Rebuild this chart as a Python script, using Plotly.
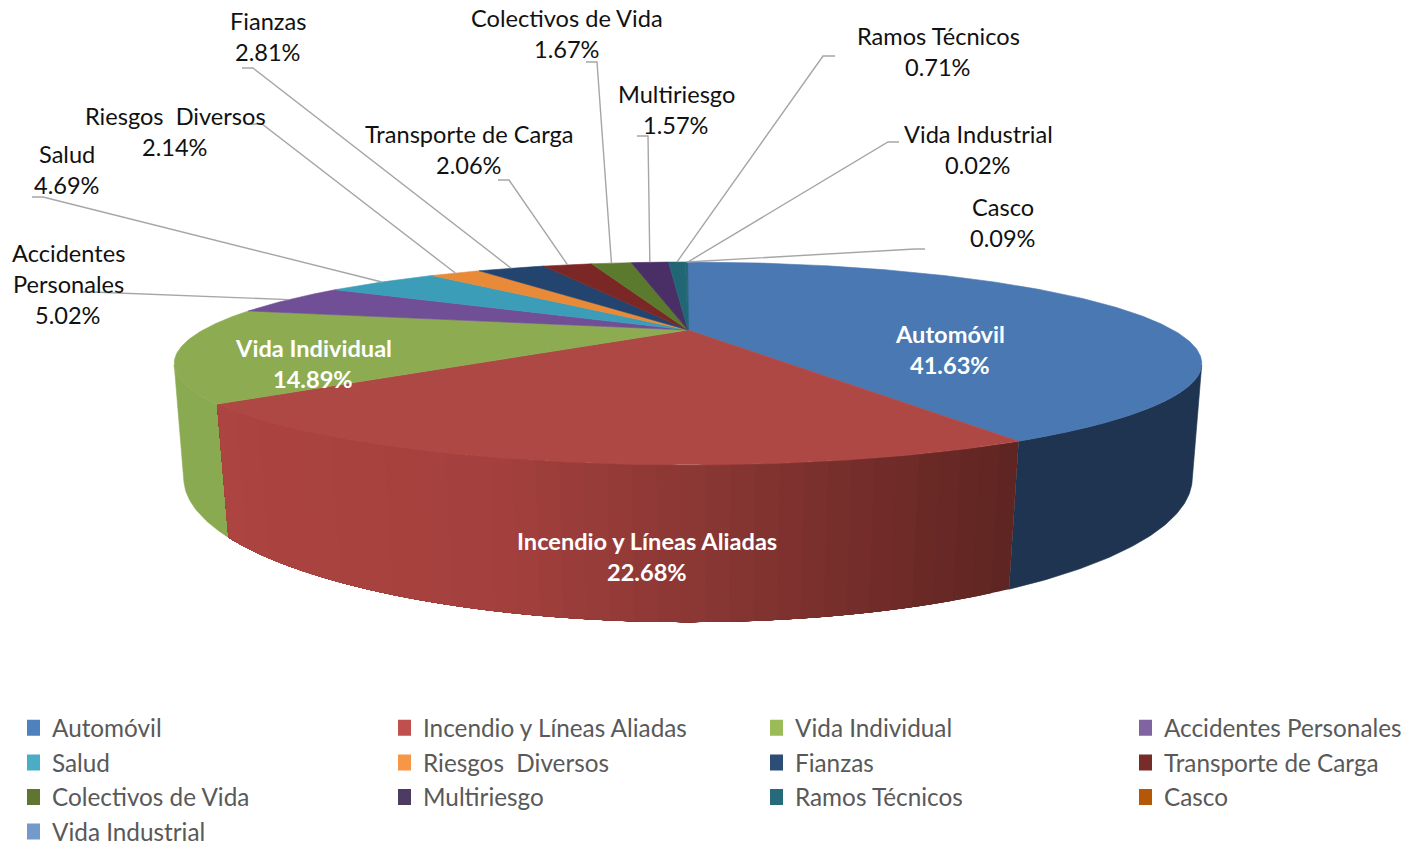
import math
import plotly.graph_objects as go

# ---- data ----
categories = ["Automóvil", "Incendio y Líneas Aliadas", "Vida Individual", "Accidentes Personales",
              "Salud", "Riesgos  Diversos", "Fianzas", "Transporte de Carga",
              "Colectivos de Vida", "Multiriesgo", "Ramos Técnicos", "Casco", "Vida Industrial"]
shares = [41.63, 22.68, 14.89, 5.02, 4.69, 2.14, 2.81, 2.06, 1.67, 1.57, 0.71, 0.09, 0.02]
legend_colors = ["#4F81BD", "#C0504D", "#9BBB59", "#8064A2", "#4BACC6", "#F79646", "#2C4D75",
                 "#772C2A", "#5F7530", "#4D3B62", "#276A7C", "#B65708", "#729ACA"]
top_colors = ["#4A78B2", "#AE4845", "#8DAC52", "#714F96", "#3C9DB8", "#E98A38", "#23446F",
              "#7B2725", "#5C7A2D", "#4A2F66", "#216674", "#216674", "#216674"]
wall_colors = {0: "#1F3450", 2: "#8AAA52"}
legend_columns = [[0, 4, 8, 12], [1, 5, 9], [2, 6, 10], [3, 7, 11]]
legend_x = [27, 398, 770, 1139]

# ---- label layout: category index -> lines' centre x, first-line y ----
label_pos = {0: (950, 334), 1: (647, 541), 2: (313, 348), 3: (68, 253), 4: (67, 154), 5: (175, 116),
             6: (268, 21), 7: (469, 134), 8: (567, 18), 9: (676, 94), 10: (938, 36), 11: (1003, 207),
             12: (978, 134)}
label_wrap = {3: ["Accidentes", "Personales"]}
# leader stub: far x, near x, y
leader_stub = {3: (82, 92, 292), 4: (32, 43, 197), 5: (251, 262, 124), 6: (242, 253, 68),
               7: (498, 509, 180), 8: (586, 597, 62), 9: (637, 648, 136), 10: (835, 823, 56),
               11: (925, 915, 249), 12: (899, 888, 142)}

W, H = 1412, 880   # the window shows the top 842 px; the extra keeps the legend from shrinking the plot
CX = 688.0
WARP_TOP = 0.038
WARP_BOT = 0.019


def top_pt(t):
    t = t + WARP_TOP * math.sin(t)
    u, v = math.sin(t), -math.cos(t)
    w = 1 - 0.33 * v
    return CX + 485 * u / w, 330 + 90.4 * v / w


def bot_pt(t):
    t = t + WARP_BOT * math.sin(t)
    u, v = math.sin(t), -math.cos(t)
    w = 1 - 0.30 * v
    return CX + 481 * u / w, 435 + 131 * v / w


def arc(fn, a, b, step=0.01):
    n = max(2, int(abs(b - a) / step) + 1)
    return [fn(a + (b - a) * i / (n - 1)) for i in range(n)]


def mix(x):
    stops = [(217, (172, 68, 65)), (500, (163, 64, 61)), (700, (138, 55, 52)),
             (850, (118, 46, 43)), (1018, (94, 36, 33))]
    for (x0, c0), (x1, c1) in zip(stops, stops[1:]):
        if x <= x1:
            f = max(0, (x - x0) / (x1 - x0))
            return "rgb(%d,%d,%d)" % tuple(round(p + (q - p) * f) for p, q in zip(c0, c1))
    return "rgb(94,36,33)"


total = sum(shares)
edges = [0.0]
for s in shares:
    edges.append(edges[-1] + s / total * 2 * math.pi)

fig = go.Figure()


def poly(points, color, outline=0.6):
    xs = [p[0] for p in points] + [points[0][0]]
    ys = [p[1] for p in points] + [points[0][1]]
    fig.add_trace(go.Scatter(x=xs, y=ys, mode="lines" if outline else "none", fill="toself", fillcolor=color,
                             line=dict(color=color, width=outline), hoverinfo="skip", showlegend=False))


# walls
lim_r, lim_l = math.radians(108), math.radians(252)
a0, a1 = max(edges[0], lim_r), edges[1]
poly(arc(top_pt, a0, a1) + arc(bot_pt, a1, a0), wall_colors[0])
a0, a1 = edges[2], min(edges[3], lim_l)
poly(arc(top_pt, a0, a1) + arc(bot_pt, a1, a0), wall_colors[2])
N = 40
for i in range(N):
    # each band runs on to the far end of the wall and is painted over by the next one, so no seams
    a = edges[1] + (edges[2] - edges[1]) * i / N
    b = edges[2]
    mid = edges[1] + (edges[2] - edges[1]) * (i + 0.5) / N
    poly(arc(top_pt, a, b) + arc(bot_pt, b, a), mix(top_pt(mid)[0]), outline=0)

# top face
apex = (CX, 330.0)
for i in range(len(shares)):
    poly([apex] + arc(top_pt, edges[i], edges[i + 1]), top_colors[i])

# leaders
for i, (xf, xn, y) in leader_stub.items():
    ex, ey = top_pt((edges[i] + edges[i + 1]) / 2)
    fig.add_trace(go.Scatter(x=[xf, xn, ex], y=[y, y, ey], mode="lines",
                             line=dict(color="#A6A6A6", width=1.4), hoverinfo="skip", showlegend=False))

# legend entries
for col, idxs in enumerate(legend_columns):
    lg = "legend" if col == 0 else f"legend{col + 1}"
    for i in idxs:
        fig.add_trace(go.Scatter(x=[None], y=[None], mode="markers", name=categories[i], legend=lg,
                                 marker=dict(symbol="square", size=16, color=legend_colors[i])))

# labels
FONT = "Lato"
for i, (x, y) in label_pos.items():
    lines = label_wrap.get(i, [categories[i]]) + [f"{shares[i]:.2f}%"]
    for k, t in enumerate(lines):
        if i <= 2:
            f = dict(family=FONT, size=23.6, color="white", weight="bold")
        else:
            f = dict(family=FONT, size=23.6, color="#111111")
        fig.add_annotation(x=x, y=y + 31 * k, text=t, showarrow=False, font=f,
                           xanchor="center", yanchor="middle")

layout_legends = {}
for col, lx in enumerate(legend_x):
    key = "legend" if col == 0 else f"legend{col + 1}"
    layout_legends[key] = dict(x=lx / W, y=1 - 705.5 / H, xanchor="left", yanchor="top",
                               bgcolor="rgba(0,0,0,0)", indentation=-15,
                               font=dict(family=FONT, size=24.3, color="#595959"))

fig.update_layout(width=W, height=H, autosize=False, margin=dict(l=0, r=0, t=0, b=0),
                  paper_bgcolor="white", plot_bgcolor="white", showlegend=True,
                  xaxis=dict(range=[0, W], visible=False, fixedrange=True),
                  yaxis=dict(range=[H, 0], visible=False, fixedrange=True),
                  **layout_legends)

fig.write_html("out.html", config={"displayModeBar": False},
               post_script="document.body.style.margin='0';document.body.style.overflow='hidden';")
